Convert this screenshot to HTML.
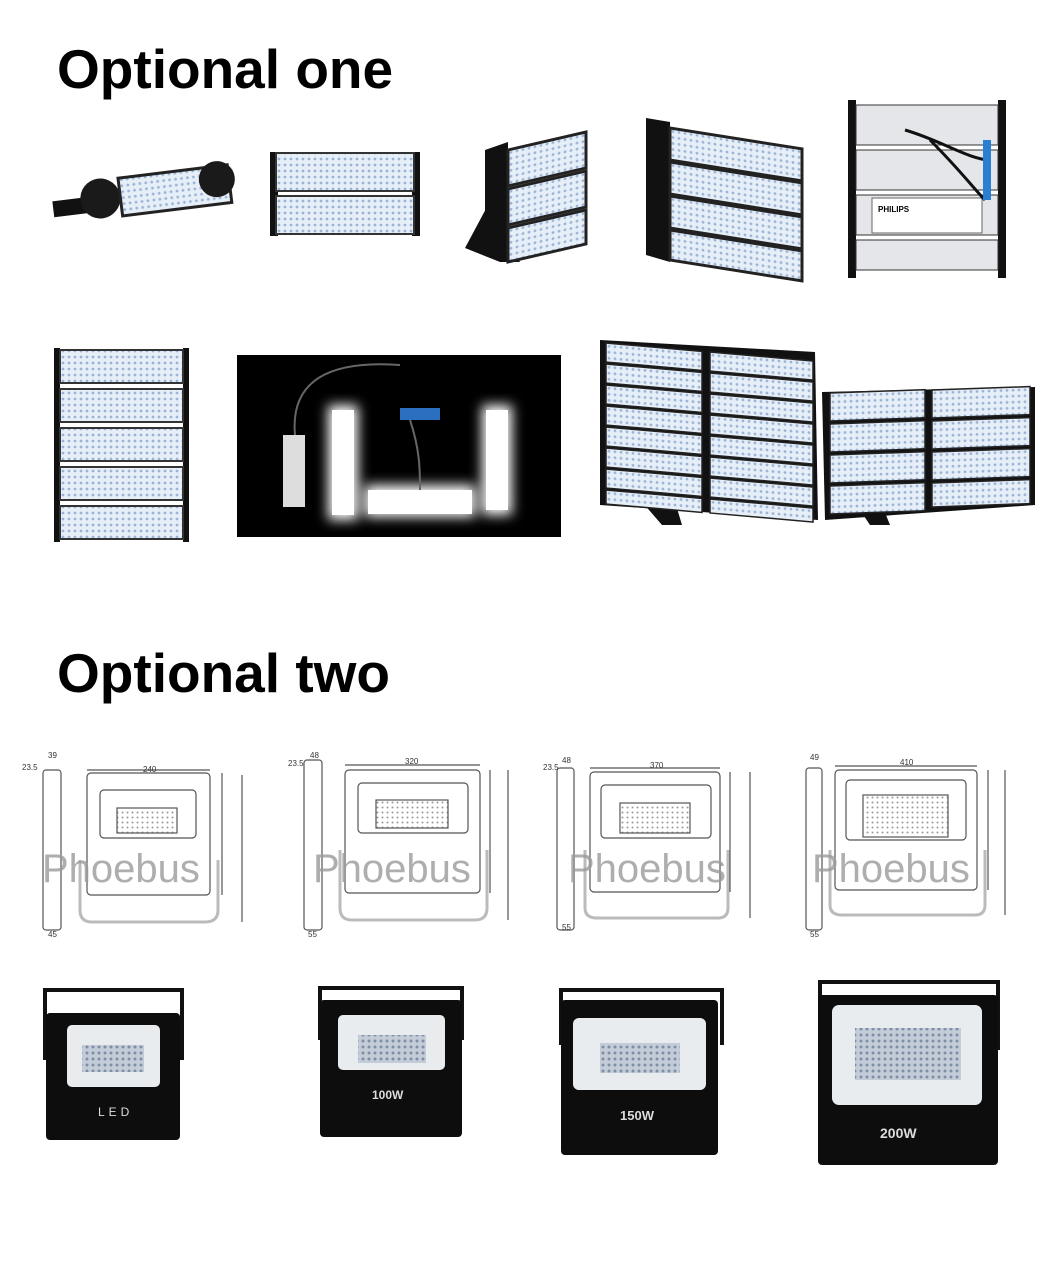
<!DOCTYPE html>
<html><head><meta charset="utf-8"><style>
html,body{margin:0;padding:0;background:#fff;width:1060px;height:1266px;overflow:hidden}
svg{display:block}
text{font-family:"Liberation Sans",sans-serif}
</style></head><body>
<svg width="1060" height="1266" viewBox="0 0 1060 1266" xmlns="http://www.w3.org/2000/svg">
<defs>
<pattern id="dots" width="6" height="6" patternUnits="userSpaceOnUse">
<rect width="6" height="6" fill="#e6eef8"/><circle cx="3" cy="3" r="1.4" fill="#9bb4d6"/>
</pattern>
<pattern id="gdots" width="6" height="6" patternUnits="userSpaceOnUse">
<rect width="6" height="6" fill="#c4ccd8"/><circle cx="3" cy="3" r="1.5" fill="#7f8da6"/>
</pattern>
<pattern id="ddots" width="5" height="5" patternUnits="userSpaceOnUse">
<rect width="5" height="5" fill="#fff"/><circle cx="2.5" cy="2.5" r="1" fill="#999"/>
</pattern>
<filter id="glow"><feGaussianBlur stdDeviation="6"/></filter>
</defs>

<text x="57" y="88" font-size="55" font-weight="bold" fill="#000">Optional one</text>
<text x="57" y="692" font-size="55" font-weight="bold" fill="#000">Optional two</text>

<!-- 1 long module -->
<g transform="rotate(-7 145 193)">
<rect x="52" y="190" width="40" height="16" fill="#111"/>
<circle cx="100" cy="193" r="20" fill="#1a1a1a"/>
<rect x="120" y="175" width="110" height="38" fill="url(#dots)" stroke="#222" stroke-width="3"/>
<circle cx="218" cy="188" r="18" fill="#1a1a1a"/>
</g>
<!-- 2 two modules -->
<rect x="270" y="152" width="8" height="84" fill="#111"/><rect x="412" y="152" width="8" height="84" fill="#111"/>
<rect x="276" y="153" width="138" height="38" fill="url(#dots)" stroke="#333" stroke-width="2"/>
<rect x="276" y="196" width="138" height="38" fill="url(#dots)" stroke="#333" stroke-width="2"/>
<!-- 3 three modules angled -->
<polygon points="465,248 488,205 520,262 500,262" fill="#111"/>
<polygon points="485,150 508,142 508,262 485,256" fill="#111"/>
<g fill="url(#dots)" stroke="#222" stroke-width="3">
<rect transform="translate(508,150) skewY(-13)" width="78" height="36"/>
<rect transform="translate(508,189) skewY(-13)" width="78" height="36"/>
<rect transform="translate(508,228) skewY(-13)" width="78" height="34"/>
</g>
<!-- 4 four modules -->
<polygon points="660,250 690,200 722,262 700,262" fill="#111"/>
<polygon points="646,118 670,122 670,262 646,255" fill="#111"/>
<g fill="url(#dots)" stroke="#222" stroke-width="3">
<rect transform="translate(670,128) skewY(9)" width="132" height="32"/>
<rect transform="translate(670,162) skewY(9)" width="132" height="32"/>
<rect transform="translate(670,196) skewY(9)" width="132" height="32"/>
<rect transform="translate(670,230) skewY(9)" width="132" height="30"/>
</g>
<!-- 5 back view -->
<rect x="848" y="100" width="8" height="178" fill="#111"/><rect x="998" y="100" width="8" height="178" fill="#111"/>
<rect x="856" y="105" width="142" height="40" fill="#e4e6ea" stroke="#333"/>
<rect x="856" y="150" width="142" height="40" fill="#e4e6ea" stroke="#333"/>
<rect x="856" y="195" width="142" height="40" fill="#e4e6ea" stroke="#333"/>
<rect x="856" y="240" width="142" height="30" fill="#e4e6ea" stroke="#333"/>
<rect x="872" y="198" width="110" height="35" fill="#fff" stroke="#666"/>
<text x="878" y="212" font-size="8" font-weight="bold">PHILIPS</text>
<path d="M905 130 C940 140,970 160,990 160 M930 140 C960 170,975 190,985 200" stroke="#111" stroke-width="3" fill="none"/>
<rect x="983" y="140" width="8" height="60" fill="#2a7fd0"/>

<!-- 6 five modules -->
<rect x="54" y="348" width="6" height="194" fill="#111"/><rect x="183" y="348" width="6" height="194" fill="#111"/>
<rect x="60" y="350" width="123" height="33" fill="url(#dots)" stroke="#333" stroke-width="2"/>
<rect x="60" y="389" width="123" height="33" fill="url(#dots)" stroke="#333" stroke-width="2"/>
<rect x="60" y="428" width="123" height="33" fill="url(#dots)" stroke="#333" stroke-width="2"/>
<rect x="60" y="467" width="123" height="33" fill="url(#dots)" stroke="#333" stroke-width="2"/>
<rect x="60" y="506" width="123" height="33" fill="url(#dots)" stroke="#333" stroke-width="2"/>
<!-- 7 dark photo -->
<rect x="237" y="355" width="324" height="182" fill="#000"/>
<g filter="url(#glow)" fill="#fff">
<rect x="328" y="405" width="30" height="115"/><rect x="482" y="405" width="30" height="110"/><rect x="365" y="485" width="110" height="32"/>
</g>
<rect x="332" y="410" width="22" height="105" fill="#fff"/><rect x="486" y="410" width="22" height="100" fill="#fff"/><rect x="368" y="490" width="104" height="24" fill="#fff"/>
<rect x="283" y="435" width="22" height="72" fill="#ddd"/>
<path d="M295 435 C290 380,330 360,400 365 M410 420 C420 450,420 470,420 490" stroke="#666" fill="none" stroke-width="2"/>
<rect x="400" y="408" width="40" height="12" fill="#2a6fc0"/>
<!-- 8 2x8 -->
<polygon points="636,495 655,435 682,525 662,525" fill="#111"/>
<polygon points="600,340 815,352 818,520 600,505" fill="#111"/>
<g fill="url(#dots)" stroke="#222" stroke-width="1.5">
<rect transform="translate(606,343) skewY(5)" width="96" height="19"/><rect transform="translate(710,352) skewY(5)" width="103" height="19"/>
<rect transform="translate(606,364) skewY(5)" width="96" height="19"/><rect transform="translate(710,373) skewY(5)" width="103" height="19"/>
<rect transform="translate(606,385) skewY(5)" width="96" height="19"/><rect transform="translate(710,394) skewY(5)" width="103" height="19"/>
<rect transform="translate(606,406) skewY(5)" width="96" height="19"/><rect transform="translate(710,415) skewY(5)" width="103" height="19"/>
<rect transform="translate(606,427) skewY(5)" width="96" height="19"/><rect transform="translate(710,436) skewY(5)" width="103" height="19"/>
<rect transform="translate(606,448) skewY(5)" width="96" height="19"/><rect transform="translate(710,457) skewY(5)" width="103" height="19"/>
<rect transform="translate(606,469) skewY(5)" width="96" height="19"/><rect transform="translate(710,478) skewY(5)" width="103" height="19"/>
<rect transform="translate(606,490) skewY(5)" width="96" height="14"/><rect transform="translate(710,499) skewY(5)" width="103" height="14"/>
</g>
<!-- 9 2x4 -->
<polygon points="850,495 862,455 890,525 870,525" fill="#111"/>
<polygon points="822,392 1035,387 1035,505 825,520" fill="#111"/>
<g fill="url(#dots)" stroke="#222" stroke-width="1.5">
<rect transform="translate(830,393) skewY(-2)" width="95" height="28"/><rect transform="translate(932,390) skewY(-2)" width="98" height="28"/>
<rect transform="translate(830,424) skewY(-2)" width="95" height="28"/><rect transform="translate(932,421) skewY(-2)" width="98" height="28"/>
<rect transform="translate(830,455) skewY(-2)" width="95" height="28"/><rect transform="translate(932,452) skewY(-2)" width="98" height="28"/>
<rect transform="translate(830,486) skewY(-2)" width="95" height="28"/><rect transform="translate(932,483) skewY(-2)" width="98" height="24"/>
</g>

<!-- drawings -->
<g stroke="#555" fill="none" stroke-width="1.2" font-size="8">
<rect x="43" y="770" width="18" height="160" rx="3"/><rect x="87" y="773" width="123" height="122" rx="4"/>
<rect x="100" y="790" width="96" height="48" rx="4"/><rect x="117" y="808" width="60" height="25" fill="url(#ddots)"/>
<path d="M80 860 V910 Q80 922 92 922 H205 Q218 922 218 910 V860" stroke="#bbb" stroke-width="3"/>
<line x1="87" y1="770" x2="210" y2="770"/><line x1="222" y1="773" x2="222" y2="895"/><line x1="242" y1="775" x2="242" y2="922"/>
<rect x="304" y="760" width="18" height="170" rx="3"/><rect x="345" y="770" width="135" height="123" rx="4"/>
<rect x="358" y="783" width="110" height="50" rx="4"/><rect x="376" y="800" width="72" height="28" fill="url(#ddots)"/>
<path d="M340 850 V908 Q340 920 352 920 H475 Q487 920 487 908 V850" stroke="#bbb" stroke-width="3"/>
<line x1="345" y1="765" x2="480" y2="765"/><line x1="490" y1="770" x2="490" y2="893"/><line x1="508" y1="770" x2="508" y2="920"/>
<rect x="557" y="768" width="17" height="162" rx="3"/><rect x="590" y="772" width="130" height="120" rx="4"/>
<rect x="601" y="785" width="110" height="53" rx="4"/><rect x="620" y="803" width="70" height="30" fill="url(#ddots)"/>
<path d="M585 850 V908 Q585 918 597 918 H718 Q728 918 728 908 V850" stroke="#bbb" stroke-width="3"/>
<line x1="590" y1="768" x2="720" y2="768"/><line x1="730" y1="772" x2="730" y2="892"/><line x1="750" y1="772" x2="750" y2="918"/>
<rect x="806" y="768" width="16" height="162" rx="3"/><rect x="835" y="770" width="142" height="120" rx="4"/>
<rect x="846" y="780" width="120" height="60" rx="4"/><rect x="863" y="795" width="85" height="42" fill="url(#ddots)"/>
<path d="M830 850 V905 Q830 915 842 915 H975 Q985 915 985 905 V850" stroke="#bbb" stroke-width="3"/>
<line x1="835" y1="766" x2="977" y2="766"/><line x1="988" y1="770" x2="988" y2="890"/><line x1="1005" y1="770" x2="1005" y2="915"/>
</g>
<g fill="#333" font-size="8">
<text x="143" y="772">240</text><text x="48" y="758">39</text><text x="22" y="770">23.5</text><text x="48" y="937">45</text>
<text x="405" y="764">320</text><text x="310" y="758">48</text><text x="288" y="766">23.5</text><text x="308" y="937">55</text>
<text x="650" y="768">370</text><text x="562" y="763">48</text><text x="543" y="770">23.5</text><text x="562" y="930">55</text>
<text x="900" y="765">410</text><text x="810" y="760">49</text><text x="810" y="937">55</text>
</g>
<g fill="#9a9a9a" fill-opacity="0.8" font-size="40">
<text x="42" y="882">Phoebus</text><text x="313" y="882">Phoebus</text><text x="568" y="882">Phoebus</text><text x="812" y="882">Phoebus</text>
</g>

<!-- floodlights -->
<g stroke="#111" stroke-width="4" fill="none">
<path d="M45 1060 V990 H182 V1060"/><path d="M320 1040 V988 H462 V1040"/><path d="M561 1045 V990 H722 V1045"/><path d="M820 1050 V982 H998 V1050"/>
</g>
<rect x="46" y="1013" width="134" height="127" rx="4" fill="#0d0d0d"/>
<rect x="67" y="1025" width="93" height="62" rx="5" fill="#e9ecef"/><rect x="82" y="1045" width="62" height="27" fill="url(#gdots)"/>
<text x="98" y="1116" fill="#ddd" font-size="12" letter-spacing="4">LED</text>
<rect x="320" y="1000" width="142" height="137" rx="4" fill="#0d0d0d"/>
<rect x="338" y="1015" width="107" height="55" rx="5" fill="#e9ecef"/><rect x="358" y="1035" width="68" height="28" fill="url(#gdots)"/>
<text x="372" y="1099" fill="#ddd" font-size="12" font-weight="bold">100W</text>
<rect x="561" y="1000" width="157" height="155" rx="4" fill="#0d0d0d"/>
<rect x="573" y="1018" width="133" height="72" rx="6" fill="#e9ecef"/><rect x="600" y="1043" width="80" height="30" fill="url(#gdots)"/>
<text x="620" y="1120" fill="#ddd" font-size="13" font-weight="bold">150W</text>
<rect x="818" y="995" width="180" height="170" rx="4" fill="#0d0d0d"/>
<rect x="832" y="1005" width="150" height="100" rx="7" fill="#e9ecef"/><rect x="855" y="1028" width="106" height="52" fill="url(#gdots)"/>
<text x="880" y="1138" fill="#ddd" font-size="14" font-weight="bold">200W</text>
</svg>
</body></html>
